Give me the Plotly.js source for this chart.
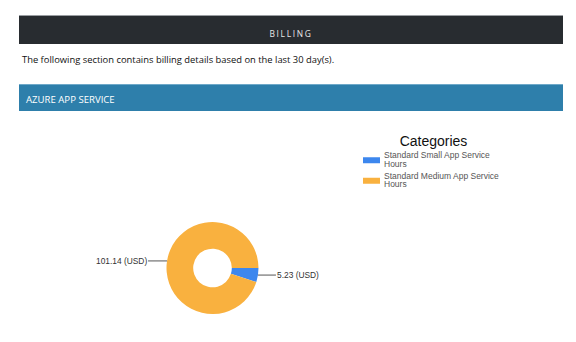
<!DOCTYPE html>
<html>
<head>
<meta charset="utf-8">
<script src="https://cdn.plot.ly/plotly-3.0.1.min.js"></script>
<style>
  html, body { margin:0; padding:0; width:576px; height:342px; background:#fff; overflow:hidden; }
  #chart { position:absolute; left:0; top:0; width:576px; height:342px; }
  .bar { position:absolute; left:19px; width:544px; }
  #billing { top:15px; height:29px; background:#282c30; border-top:1px solid #9a9ea2; box-sizing:border-box;
             color:#e8e8e8; font-family:"Open Sans", sans-serif; font-size:8.4px; letter-spacing:1.7px;
             text-align:center; line-height:35px; }
  #desc { position:absolute; left:22px; top:53px; font-family:"Open Sans", sans-serif; font-size:9.4px; color:#111; }
  #azure { top:84px; height:27px; background:#2e7fab; border-top:1px solid #6fa9c9; box-sizing:border-box;
           color:#fff; font-family:"Open Sans", sans-serif; font-size:9.6px; line-height:29px; padding-left:7px; }
</style>
</head>
<body>
<div id="chart"></div>
<div class="bar" id="billing">BILLING</div>
<div id="desc">The following section contains billing details based on the last 30 day(s).</div>
<div class="bar" id="azure">AZURE APP SERVICE</div>
<script>
const categories = ['Standard Small App Service Hours', 'Standard Medium App Service Hours'];
const costs = [5.23, 101.14];
const currency = 'USD';
const sliceColors = ['#3d87ee', '#f9b13f'];

const W = 576, H = 342;
const cxPx = 212.5, cyPx = 268, R = 46;
const domain = { x: [(cxPx - R) / W, (cxPx + R) / W], y: [(H - cyPx - R) / H, (H - cyPx + R) / H] };

const legendLabels = categories.map(c => c.replace(/ (\S+)$/, '<br>$1'));

const trace = {
  type: 'pie',
  labels: legendLabels,
  values: costs,
  hole: 0.42,
  sort: false,
  direction: 'clockwise',
  rotation: 90,
  textinfo: 'none',
  marker: { colors: sliceColors, line: { width: 0 } },
  domain: domain,
  hoverinfo: 'skip'
};

// label annotations computed from slice angles
const total = costs.reduce((a, b) => a + b, 0);
const annotations = [];
let acc = 0;
const cxP = (domain.x[0] + domain.x[1]) / 2, cyP = (domain.y[0] + domain.y[1]) / 2;
costs.forEach((v, i) => {
  const mid = (acc + v / 2) / total * 2 * Math.PI; // clockwise from 3 o'clock
  acc += v;
  const px = cxP + (R / W) * Math.cos(mid);
  const py = cyP - (R / H) * Math.sin(mid);
  const right = Math.cos(mid) >= 0;
  annotations.push({
    xref: 'paper', yref: 'paper', x: px, y: py,
    text: v.toFixed(2) + ' (' + currency + ')',
    showarrow: true, arrowhead: 0, arrowwidth: 1, arrowcolor: '#555',
    ax: right ? 18 : -19, ay: 0,
    xanchor: right ? 'left' : 'right', yanchor: 'middle',
    font: { family: 'Liberation Sans, Arial', size: 8.4, color: '#333' },
    borderpad: 0
  });
});

const layout = {
  width: W, height: H,
  margin: { l: 0, r: 0, t: 0, b: 0 },
  paper_bgcolor: 'rgba(0,0,0,0)',
  showlegend: true,
  legend: {
    x: 344 / W, y: 1 - 128 / H, xanchor: 'left', yanchor: 'top',
    title: { text: 'Categories', side: 'top center', font: { family: 'Liberation Sans, Arial', size: 14, color: '#111' } },
    font: { family: 'Liberation Sans, Arial', size: 8.5, color: '#555' },
    tracegroupgap: 0, itemwidth: 30,
    bgcolor: 'rgba(0,0,0,0)'
  },
  annotations: annotations
};

Plotly.newPlot('chart', [trace], layout, { staticPlot: true, displayModeBar: false }).then(() => {
  document.querySelectorAll('.legendpoints path').forEach(p => p.setAttribute('d', 'M16,3H-1V-3H16Z'));
  // tighten legend spacing
  const items = Array.from(document.querySelectorAll('.legend .traces'));
  let y0 = null;
  items.forEach((g, i) => {
    const m = /translate\(([-\d.]+),\s*([-\d.]+)\)/.exec(g.getAttribute('transform') || '');
    if (!m) return;
    const x = parseFloat(m[1]), y = parseFloat(m[2]);
    if (y0 === null) y0 = y;
    g.setAttribute('transform', 'translate(' + x + ',' + (y0 - 3.5 + i * 20.5) + ')');
    g.querySelectorAll('tspan.line').forEach((t, k) => { if (k > 0) t.setAttribute('dy', '1.05em'); });
  });
  const tt = document.querySelector('.legendtitletext');
  if (tt) tt.setAttribute('x', parseFloat(tt.getAttribute('x') || 0) + 9);
});
</script>
</body>
</html>
